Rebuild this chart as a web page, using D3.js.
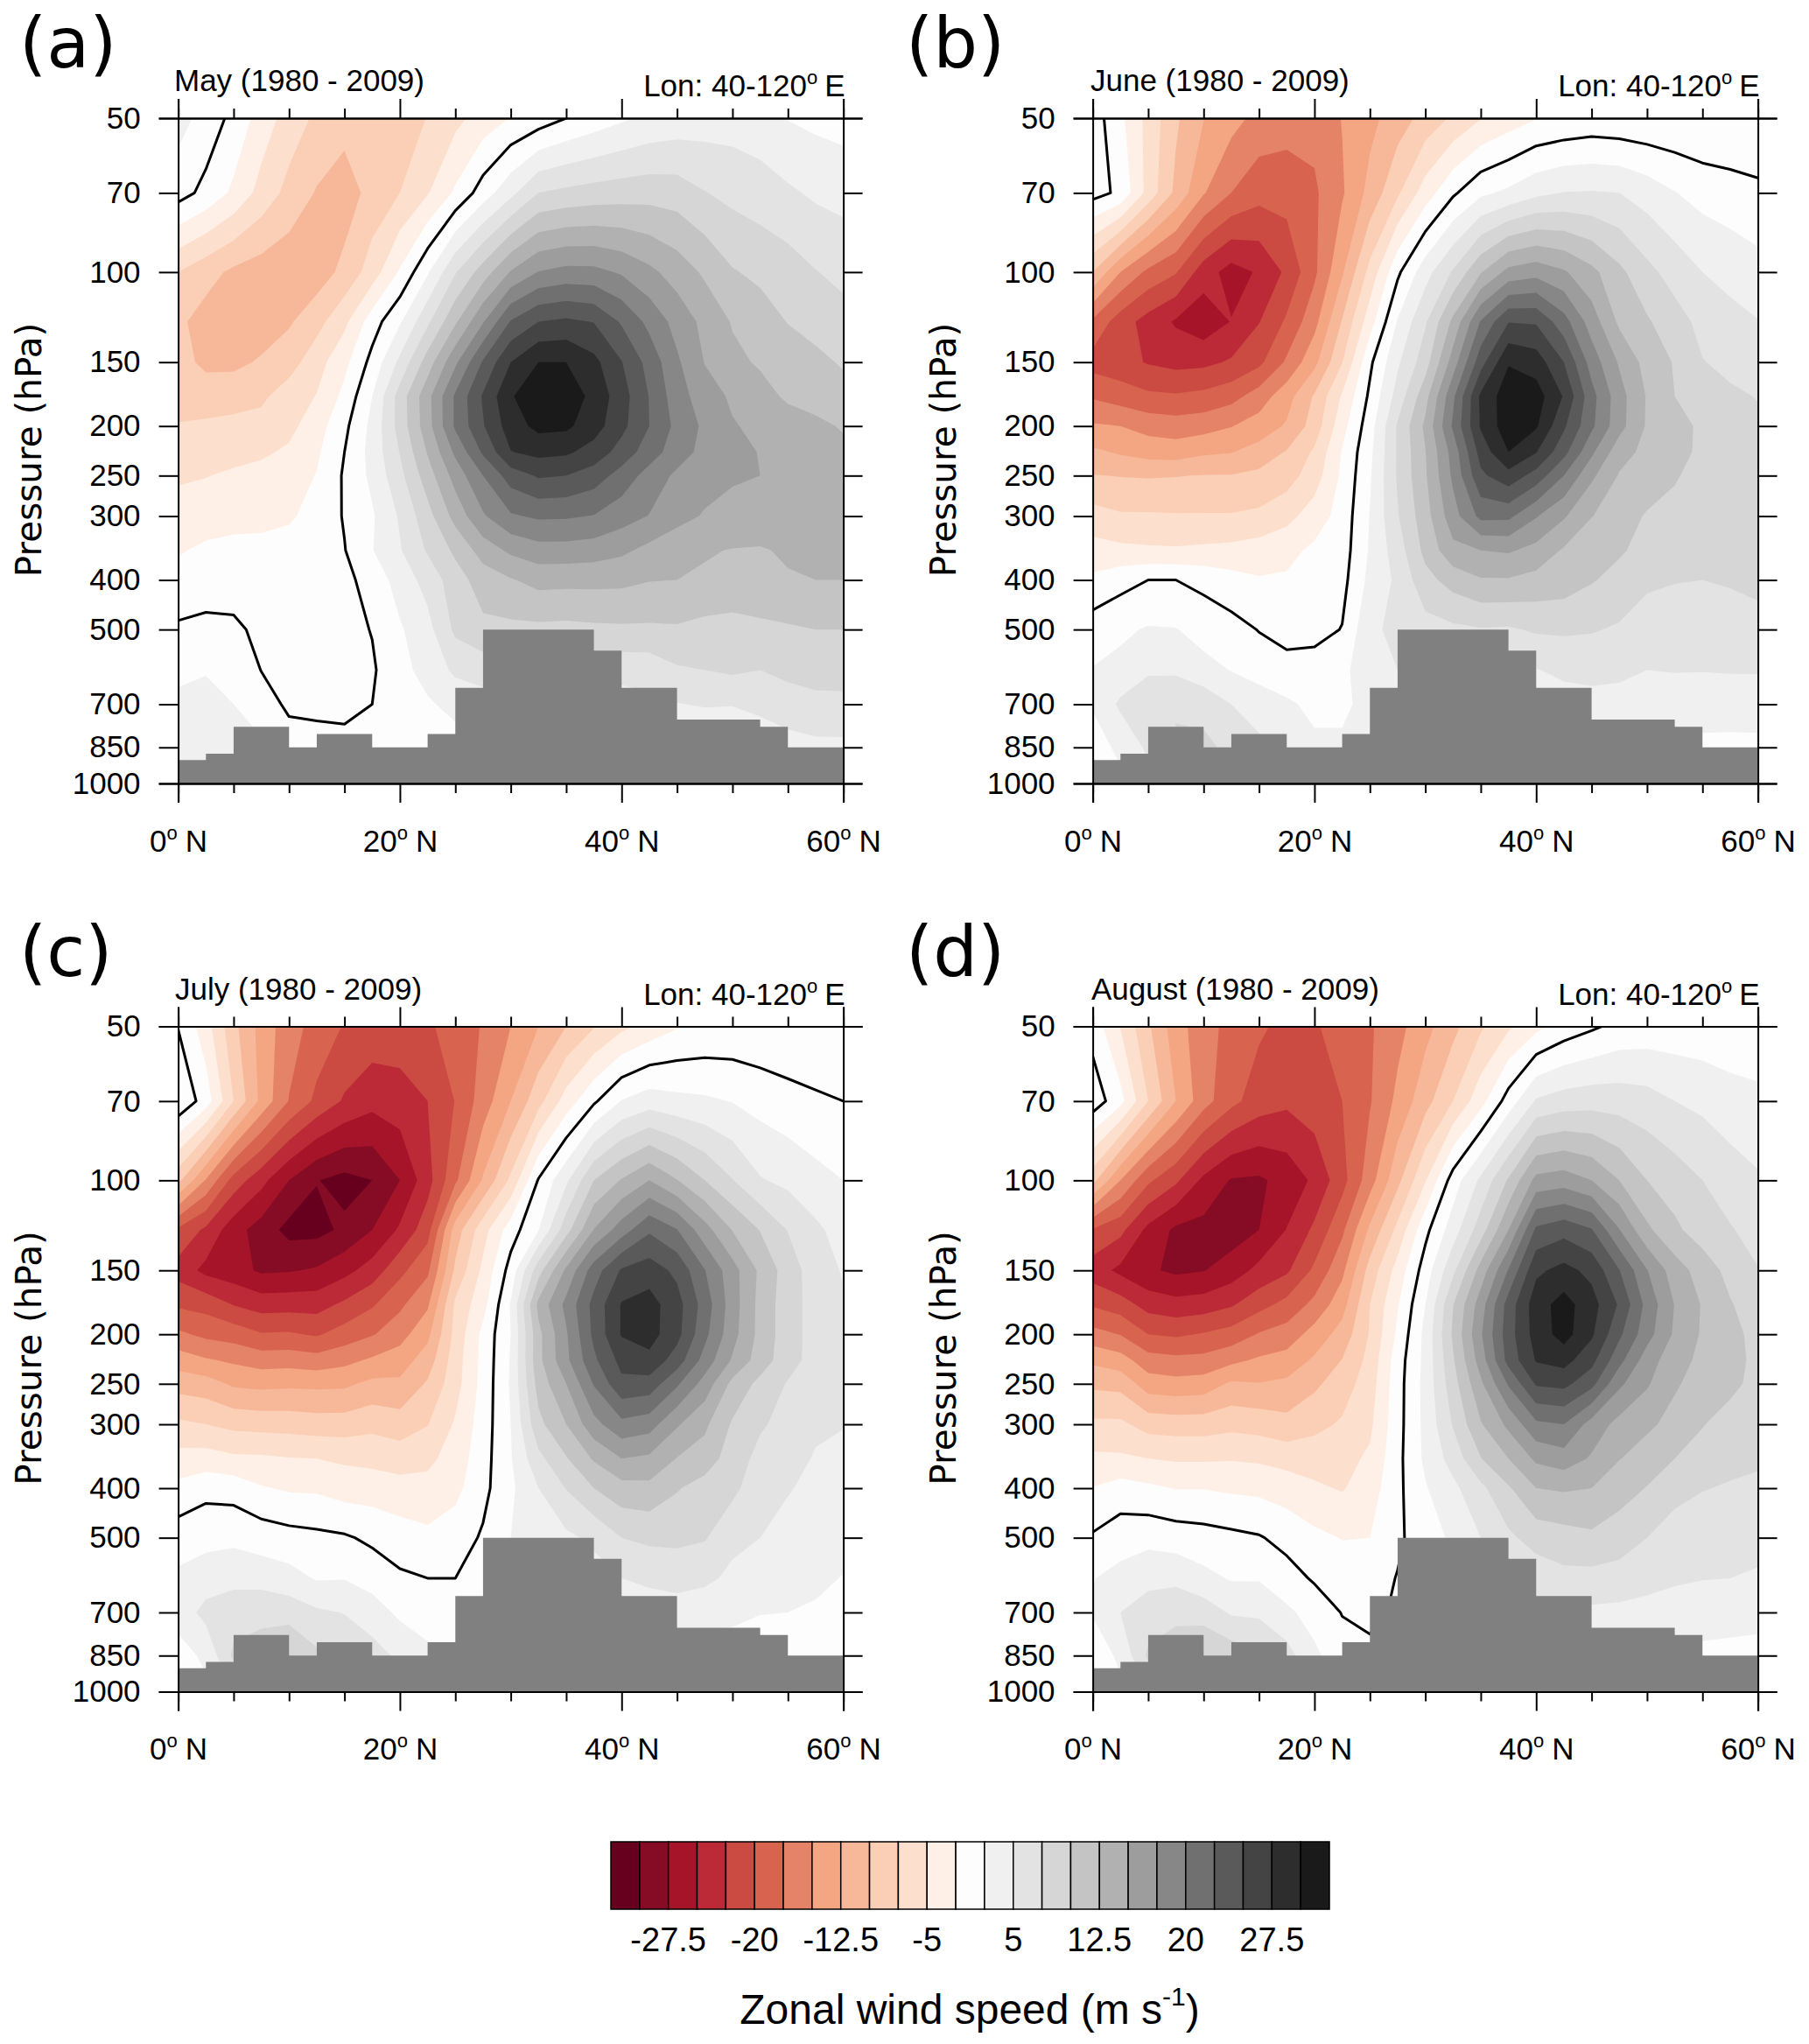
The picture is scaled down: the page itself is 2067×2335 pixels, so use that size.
<!DOCTYPE html>
<html><head><meta charset="utf-8">
<script src="https://cdn.jsdelivr.net/npm/d3@7"></script>
<style>html,body{margin:0;padding:0;background:#fff}svg{display:block}text{font-family:"Liberation Sans",sans-serif;fill:#000}</style>
</head><body><svg id="c" width="2067" height="2335" viewBox="0 0 2067 2335"></svg>
<script>
const lats = d3.range(0, 60.1, 2.5);
const levels = [50,70,100,125,150,175,200,225,250,300,350,400,500,600,700,850,1000];
const mayU = [
[3.5,1.5,-0.7,-3.6,-6.1,-8,-9,-9.3,-8.8,-7.4,-5.7,-3.9,-2.4,-1.3,0,1.1,2.1,3,3.5,3.8,3.9,3.5,2.4,1.9,1.5],
[1,-0.7,-3,-5.9,-8.3,-10.2,-11.3,-9.1,-7.5,-5.2,-2.1,1.2,4.3,7.5,8.1,8.5,8.8,9,8.8,7.6,6.8,6.2,5.4,4.6,4.2],
[-7.5,-9.1,-10.5,-11.2,-11.7,-11.3,-9.3,-6.3,-2.2,2.2,7.3,11.2,15.2,17.6,18.3,18.2,17.2,15.6,13.9,12.1,10.2,9.4,8.7,7.6,6.8],
[-9.5,-11,-11.8,-11.4,-10.3,-8.4,-5.6,-1.2,2.2,7,12.1,17.3,22.7,25,25.5,24.9,22.2,19.3,16.6,14.3,12.3,11.3,9.9,9,8.4],
[-8.9,-10.7,-10.6,-9.7,-8.6,-6,-3.2,0.8,5.6,11.2,17,22.8,27.5,30,30,28.2,25.1,21.6,17.9,14.9,13.1,12.2,11.6,10.7,9.7],
[-8.2,-8.4,-8.4,-8,-6.2,-4.9,-1.8,2.5,8.6,14.2,20.4,25.3,29.8,31.5,31.5,29.3,26.1,22.4,18.6,16.2,14.6,13.4,12.1,11.6,11],
[-7.4,-7.2,-6.9,-6.6,-5.7,-3.6,-0.6,3.2,8.5,14,20.4,24.8,28.8,30.7,30.5,28.6,25.7,22.5,19.3,17,15.2,14.4,13.7,13,12.3],
[-6.2,-6.1,-5.8,-5.4,-4.6,-2.9,0,3.4,7.6,12.7,18,22.9,27.4,28.2,27.9,26.5,24,21.2,18.7,16.7,15.7,14.9,14.2,13.6,13],
[-5.4,-5.1,-4.6,-4.2,-3.6,-2.4,0.3,3.1,6.8,11.3,16,20,23.7,25.3,25,23.8,21.5,19,17,15.9,15.3,15,14.5,14,13.6],
[-3.8,-3.5,-3.2,-3.2,-2.8,-1.7,0.2,2.2,5.3,9.1,13.4,17.2,19.7,20.4,20.3,19.9,18.6,17.4,15.8,14.8,14.2,14,13.8,13.8,13.8],
[-2.7,-2.1,-1.9,-1.8,-1.6,-1,-0.1,2.4,4.8,7.8,10.5,13.6,15.5,16.5,16.5,16.2,15.5,14.3,13.4,12.7,12.4,12.3,12.8,13.3,13.5],
[-1.8,-1.5,-1.2,-1.2,-1,-0.8,-0.6,0.9,3.6,5.9,8.9,11.2,12.3,13.3,13.2,13.2,13.1,12.6,12.5,12.2,11.7,12,12.3,12.5,12.5],
[0.4,0.8,0.5,-0.6,-0.9,-1,-0.8,0.1,2.2,4.2,8,9.4,9.4,9.4,9.3,9.5,9.6,9.6,9.7,9.2,9.1,9.4,9.7,10,10],
[2.2,2.4,1.7,-0.05,-0.6,-0.7,-0.7,-0.3,1.7,3.4,5.5,6,7.5,7.5,8,8,5.8,5.9,7.2,7.5,7.9,7.5,8.1,8.5,8.5],
[2.8,3,2.5,1,-0.4,-0.5,-0.6,0,1.3,2.2,3.2,4,4,4,4,4,4,4.5,4.9,5.2,5.1,5.6,6.4,6.8,6.9],
[2.8,3,3,3,1,0.8,0.7,0.6,0.6,1,1.5,2,2,2,2,2,2,2,2,2.5,3,3.5,4,4.4,4.4],
[2,2,1.5,1,1,0.5,0.5,0.5,0.5,0.5,1,1,1,1,1,1,1,1,1,2,2,2,3,3,3]];
const juneU = [
[1.3,-1.9,-5.8,-9.6,-12.4,-14.1,-15.8,-16.4,-16.7,-14.9,-13.2,-11.2,-9.1,-7.1,-5.1,-3.8,-2.6,-2.1,-1.7,-1.9,-2.1,-2.2,-2.4,-2.4,-2.4],
[0.9,-0.5,-5.9,-10.6,-14.8,-17.5,-19.1,-19,-17.9,-15.3,-11.7,-7.9,-3.8,-0.4,2,3,4.4,5.1,5.2,5,3.9,2.6,1.6,1.1,0.6],
[-10,-15,-18.1,-19.8,-23.8,-26,-24.7,-22,-18,-12.8,-6.7,-0.5,4,7.8,12.3,15.8,16.6,15.3,13.2,10.6,8.2,6.5,5,4.2,3.4],
[-18,-21.3,-23.5,-25.3,-26.6,-24.9,-22.6,-19.6,-15.8,-9.8,-3.6,2.7,7.2,13.1,20.2,24.9,24.7,21,16.3,12,10.3,8.5,6.8,5.8,5.1],
[-21,-21.6,-22.7,-23.3,-23.1,-22.2,-20.6,-17.1,-13.2,-7.6,-0.5,4.6,8.9,16.2,24,29.8,28.8,25,18.9,14.7,11.6,9.8,7.6,6.9,6.3],
[-17.8,-18.7,-19.5,-19.7,-19.3,-18.4,-16.3,-13.5,-9.7,-4.7,0.5,6,11.6,19.5,28,31.5,31.2,27.3,20.9,16,12.3,10,9.3,7.9,7.4],
[-14.7,-15,-15.9,-16.3,-16,-15.1,-13.9,-12.2,-8.9,-3.4,1.4,7.8,13,20.4,27.8,31.5,30.3,25.4,20.5,15.9,12.2,10.4,9.8,8.4,7.9],
[-12,-12.8,-13.5,-13.7,-12.9,-12.6,-11.5,-9.8,-7.1,-2.3,1.9,7.8,12.4,18.5,26,30,27.6,23.3,18,13.5,11.8,10.5,9.7,8.8,8.3],
[-9.9,-10.1,-10.2,-10.1,-9.9,-9.9,-9.4,-8.6,-6.2,-2,2.2,7.8,12.2,18,24.5,26.6,24,20,15.5,12.3,11.2,10.1,9.6,9,8.6],
[-6.5,-7.2,-7.2,-7.3,-7.3,-7.3,-7,-5.8,-3.8,-1.5,2.6,7.3,11.5,16.5,20.7,20.6,17.7,15.3,12.6,11,9.8,9.7,9.3,9,8.8],
[-4,-4.4,-4.6,-4.7,-4.5,-4.3,-3.8,-3.2,-2,-1.2,2.8,6.3,10.7,14.3,15,15.3,14.2,12.2,10.2,10.3,9.2,8.6,8.4,8.5,8.7],
[-2,-0.9,0,0,-0.7,-1.6,-2.3,-2.2,-2,-0.8,3.2,5.5,9.2,11,12.3,12.3,11.7,11.3,10.2,9.2,7.8,7.6,7.5,7.7,8],
[1.3,2.1,2.7,2.6,1.6,0.9,-0.1,-0.9,-0.9,0.1,4.6,5.5,6.5,7,7.3,7.2,7.8,7.9,7.7,7.2,6.7,6.3,6.3,6.5,6.8],
[2.6,3.1,4.7,4.6,3.3,2.4,1.4,0.9,1.2,1.6,4.8,5,5.5,5.5,5.5,5.5,4.9,5.5,5.7,5.4,5,5.1,5.1,5.2,5.2],
[2.7,5.5,6.5,7.1,6.8,5,4,2.9,1.9,1.9,3.5,4,4,4,4,4,4,4,4.2,4.3,4.2,3.9,3.5,3.4,3.5],
[1.5,3,5.5,8,8,7,5.5,4,3,3,3.5,3.5,3,3,3,3,3,3,3,3,2.5,2.5,2,2,2],
[1,2,4,5,5,5,4,3,2,2,2,2,2,2,2,2,2,2,2,2,2,1,1,1,1]];
const julyU = [
[-0.1,-3.9,-9.3,-13.4,-16.5,-18.4,-20.2,-20.9,-21.1,-20.4,-18.9,-17.3,-15,-12.5,-10,-7.7,-5.6,-4.1,-2.7,-2.1,-1.9,-2,-2.1,-2.3,-2.6],
[2.2,-1.2,-7.5,-13.2,-17.6,-20.6,-22.8,-24.2,-23.6,-22.5,-19.9,-16.3,-12.5,-8.4,-3.9,-0.4,2.6,3.8,3.2,2.9,2.4,1.6,0.9,0.4,0],
[-9.3,-15.2,-21,-24.2,-27.5,-29.9,-30.8,-30,-27.5,-23.5,-18,-12.2,-7,0.2,4.5,10,12.7,15,12.6,10,7.6,5.2,4.4,3.3,2.5],
[-20.5,-23,-26.5,-28.6,-30.8,-30.8,-29.5,-27.5,-24.6,-21,-11.3,-6,-1.2,2.4,9,15.1,18.8,22.1,20.1,16,12.4,9.9,7.4,5.5,4],
[-23.5,-25.7,-26.5,-27.9,-27.7,-27.2,-25.8,-23.9,-20.7,-18,-9.5,-4.4,1,9,15.5,21.3,25.3,26.3,24.4,20.1,16,12,8.8,6.2,4.8],
[-20.4,-20.9,-22.6,-23.6,-23.5,-23.5,-22,-20.3,-18,-15.4,-7,-3.4,2.7,13.2,18.2,23.3,27.7,28.5,26,21.4,16.2,11.7,8.6,6.5,5.3],
[-17,-18.1,-18.6,-19.8,-19.7,-20.3,-18.9,-17.7,-16,-13.1,-6.7,-1.8,2.5,11.8,17.2,23.1,27.7,28.5,25.8,20.7,15.9,11.7,8.6,6.5,5.4],
[-13.7,-14.7,-15.4,-16.1,-16,-16.4,-15.7,-14.6,-13.7,-11.3,-6.2,-1.7,2.7,11.8,16.9,22,25.8,26.8,23.8,19,14.7,11.3,8.5,6.5,5.6],
[-11,-11.4,-12.9,-13.2,-13,-13.1,-13,-11.9,-12,-9.7,-6,-1.6,2.8,11,15,20.2,24.4,24,20.4,16.5,11.8,9.3,7.3,6,5.4],
[-7,-7.5,-8.2,-8.4,-8.5,-8.8,-8.8,-8.2,-8.8,-7.6,-4.7,-1.3,2.5,9.3,12.5,16.7,19.3,18.6,15.3,13,9.7,7.8,6.7,5.4,5.1],
[-4.1,-3.9,-4.5,-4.6,-4.9,-5,-5.4,-5.7,-6.1,-5.6,-3.9,-1,2.3,6.8,9.8,12.8,15,14.5,12.4,11.4,8.7,6.8,5.9,4.8,4.4],
[-1.8,-0.8,-1,-2.3,-2.8,-2.9,-3.6,-3.7,-4.1,-4.2,-3.2,-0.7,2,5,7.6,10,11.6,11.8,10.2,8.9,8.1,6,5.2,4.3,3.9],
[1.3,1.8,1.9,1.4,0.9,0.6,0.3,-0.5,-1.3,-1.9,-1.2,0.3,2.5,3.5,4.5,5.5,7.5,8,8,7.7,5.7,5,4,3.6,3.3],
[3,3.7,4.3,3.9,3.4,2.3,2.4,1.5,0.4,0,0,1,2,3,3.5,4,5,5.6,6.1,5.6,4.4,3.9,3.2,3,2.4],
[3.5,5.8,6.4,7.2,6.5,5.4,4.9,3.7,2,1.5,1.5,1.5,1.5,2,2.5,3,3.5,3.5,3.6,3.3,3,2.6,2.5,2.2,1.7],
[1.5,3,8,8,10,8,7,6,4.5,3,2,2,2,2,2,2,2,2,2,1.5,1.5,1,1,1,1],
[1,2,5,5,6,5,5,4,3,2,2,1,1,1,1,1,1,1,1,1,1,1,0.5,0.5,0.5]];
const augustU = [
[-1,-5.1,-9.6,-13.9,-16.5,-18.3,-19.6,-20.7,-20.2,-19.2,-17.8,-15.8,-13.3,-10.7,-7.9,-5.4,-3.2,-1.5,-0.4,0.7,1,1,0.9,0.7,0.5],
[1.5,-1.7,-7.5,-12.5,-16.5,-19.3,-21.2,-22,-21.1,-20,-17.7,-14.4,-10.9,-7.5,-3.4,1.1,5.3,6.2,6.5,6.4,6,5,4.4,3.6,3.2],
[-9.2,-15,-19.5,-22,-25.6,-27.7,-27.9,-26.6,-24.5,-20.9,-16.1,-10.7,-5.2,1.2,5.5,10.3,15.8,16.3,15,12.5,10,8.8,7.5,6.2,5.3],
[-20.2,-21.8,-25.7,-28,-28.3,-28.8,-27.5,-24.9,-22,-18,-12,-6.8,-0.7,3.8,8.8,15,23,24.1,22.7,17.6,13,10.5,8.8,7.7,6.6],
[-23.8,-25.6,-27.1,-28,-27.6,-26.3,-24.3,-22.9,-19.5,-15.6,-9,-4,1.2,6.9,13.5,20.2,27,28.3,26.8,22.6,17.6,13.7,11.4,9.2,7.6],
[-20.3,-21.3,-23.5,-24.1,-23.8,-22.8,-20.9,-19.2,-16.8,-13.5,-7.5,-2.7,2.5,9.9,16.3,23.6,28.9,31,28.5,24.7,19.2,14.9,12.3,10.2,8.6],
[-16.6,-17.6,-20,-20.4,-19.8,-19,-17.3,-16.4,-14,-11.5,-7.3,-2,3.2,10.4,17.2,23.9,28.6,31,27.9,23,18.5,14.6,12.2,10.7,9.3],
[-13,-13.9,-16.4,-16.8,-16.7,-15.6,-14.6,-14,-12.1,-9.9,-6.7,-1.2,3.2,9.7,16.2,23.4,27.7,28.4,25.8,20.8,16.2,13.5,11.9,10.7,9.5],
[-10.5,-10.8,-13.8,-14.2,-13.9,-12.1,-12.4,-12,-10.5,-8.7,-6.2,-1,3.3,9,14.5,20.3,25.3,25.7,23.3,18,15.3,12.8,11.5,10.5,9.4],
[-7,-7,-8.5,-8.7,-8.7,-8.2,-8.5,-9.2,-8.2,-7.2,-5.5,-0.9,3.2,7.7,12.3,15.6,19.5,20,16.5,14.2,13,11.7,10.1,9.2,8.7],
[-4.5,-4.6,-5,-5.3,-5.3,-5.2,-5.4,-5.9,-6.1,-5.8,-4.6,-0.7,3,6,9.9,12.5,15.5,16.4,14.7,12.6,11.3,10,9.2,8.1,7.8],
[-2.4,-1.5,-2,-2.6,-2.6,-2.9,-3.1,-3.7,-4.6,-5.2,-3.7,-0.6,2.3,4.4,6.9,9.7,12.5,12.8,12.5,11,9.9,8,7.6,7.3,7.1],
[0.3,1.4,1.7,1.3,1,0.6,0.2,-0.8,-1.9,-2.6,-2.5,-0.4,1.2,3,5,7,8.5,9,9.5,8.8,7.5,6.8,6.2,6,5.8],
[2.4,3.3,4.4,4.4,3.2,2.3,2.3,1,-0.3,-1.1,-1,0.1,1,2,3,4,6,6.8,6.7,6.4,5.7,5.3,5.1,5,4.7],
[2.7,5,6,6.8,6.4,4.7,4.5,3,1.5,-0.1,-0.5,0.3,1,2,2,3,4.5,4.7,4.5,4.4,4.3,4,3.5,3.2,3],
[1,3,8,9,10,9,8,6,3,1,0.5,1,1,2,2,2,2,3,3,3,3,3,2,2,2],
[1,2,5,6,6,6,5,4,2,1,1,1,1,1,1,1,1,1,2,2,2,2,1,1,1]];
const contourLevels = [-30,-27.5,-25,-22.5,-20,-17.5,-15,-12.5,-10,-7.5,-5,-2.5,2.5,5,7.5,10,12.5,15,17.5,20,22.5,25,27.5,30];
const bandColors = ["#67001F","#850C24","#A51428","#BB2A36","#CB4A42","#D8634F","#E58368","#F4A582","#F7B799","#FBCFB5","#FDDFCE","#FFF0E7","#FDFDFD","#F0F0F0","#E3E3E3","#D6D6D6","#C4C4C4","#B1B1B1","#9D9D9D","#878787","#707070","#5A5A5A","#444444","#2D2D2D","#1A1A1A"];
const terrainEdges = [0,2.5,5,10,12.5,17.5,22.5,25,27.5,37.5,40,45,52.5,55,60];
const terrainTop = [900,875,775,850,800,850,800,650,500,550,650,750,775,850];
const yTicks = [50,70,100,150,200,250,300,400,500,700,850,1000];
const xMajor = [0,20,40,60];
const xMinor = [5,10,15,25,30,35,45,50,55];
const barLabels = [-27.5,-20,-12.5,-5,5,12.5,20,27.5];
const panels = [
 {tag:"(a)",title:"May (1980 - 2009)",u:mayU,x:203.6,y:135,tagX:22,titleX:199},
 {tag:"(b)",title:"June (1980 - 2009)",u:juneU,x:1248.6,y:135,tagX:1035,titleX:1246},
 {tag:"(c)",title:"July (1980 - 2009)",u:julyU,x:203.6,y:1172.5,tagX:22,titleX:200},
 {tag:"(d)",title:"August (1980 - 2009)",u:augustU,x:1248.6,y:1172.5,tagX:1035,titleX:1247}
];
const W = 760, H = 760;
const svg = d3.select("#c");
const xS = d3.scaleLinear().domain([0,60]).range([0,W]);
const yS = d3.scaleLog().domain([50,1000]).range([0,H]);
const rowY = d3.scaleLinear().domain(levels.map((_,i)=>i)).range(levels.map(p=>yS(p)));
const proj = d3.geoTransform({point(px,py){ this.stream.point(xS((px-0.5)*2.5), rowY(py-0.5)); }});
const pathGen = d3.geoPath(proj);
svg.append("defs").append("clipPath").attr("id","plot").append("rect").attr("width",W).attr("height",H);
const posLevels = contourLevels.filter(v=>v>0);
const negLevels = contourLevels.filter(v=>v<0).map(v=>-v).reverse();
const midBand = 12;

function degLabel(sel, prefix, suffix){
  sel.text(null);
  sel.append("tspan").text(prefix);
  sel.append("tspan").attr("font-size",22).attr("dy",-14).text("o");
  sel.append("tspan").attr("dy",14).attr("dx",9).text(suffix);
}
panels.forEach(p=>{
  const g = svg.append("g").attr("transform",`translate(${p.x},${p.y})`);
  const plot = g.append("g").attr("clip-path","url(#plot)");
  const flat = p.u.flat();
  const size = [lats.length,levels.length];
  plot.append("rect").attr("width",W).attr("height",H).attr("fill",bandColors[midBand]);
  const pos = d3.contours().size(size).thresholds(posLevels)(flat);
  plot.selectAll("path.pos").data(pos).join("path").attr("class","pos")
    .attr("d",pathGen).attr("fill",(d,i)=>bandColors[midBand+1+i]);
  const neg = d3.contours().size(size).thresholds(negLevels)(flat.map(v=>-v));
  plot.selectAll("path.neg").data(neg).join("path").attr("class","neg")
    .attr("d",pathGen).attr("fill",(d,i)=>bandColors[midBand-1-i]);
  const zero = d3.contours().size(size).thresholds([0])(flat);
  plot.selectAll("path.zero").data(zero).join("path").attr("class","zero")
    .attr("d",pathGen).attr("fill","none").attr("stroke","#000").attr("stroke-width",3).attr("stroke-linejoin","round");
  const area = d3.area().curve(d3.curveStepAfter).x(d=>xS(d.e)).y0(H).y1(d=>yS(d.t));
  const tData = terrainEdges.map((e,i)=>({e,t:terrainTop[Math.min(i,terrainTop.length-1)]}));
  plot.append("path").attr("d",area(tData)).attr("fill","#808080");
  const styleAxis = s=>{s.select(".domain").attr("stroke","#000").attr("stroke-width",2);s.selectAll("line").attr("stroke","#000").attr("stroke-width",2);};
  const left = g.append("g").call(d3.axisLeft(yS).tickValues(yTicks).tickFormat(d3.format("d")).tickSize(22).tickPadding(21)).call(styleAxis);
  left.selectAll("text").attr("font-size",35).attr("font-family","Liberation Sans").attr("fill","#000");
  g.append("g").attr("transform",`translate(${W},0)`).call(d3.axisRight(yS).tickValues(yTicks).tickFormat("").tickSize(22)).call(styleAxis);
  const bot = g.append("g").attr("transform",`translate(0,${H})`).call(d3.axisBottom(xS).tickValues(xMajor).tickSize(22).tickPadding(31)).call(styleAxis);
  bot.selectAll("text").attr("font-size",35).attr("font-family","Liberation Sans").attr("fill","#000").each(function(d){degLabel(d3.select(this),String(d),"N");});
  g.append("g").attr("transform",`translate(0,${H})`).call(d3.axisBottom(xS).tickValues(xMinor).tickFormat("").tickSize(11)).call(styleAxis);
  g.append("g").call(d3.axisTop(xS).tickValues(xMajor).tickFormat("").tickSize(22)).call(styleAxis);
  g.append("g").call(d3.axisTop(xS).tickValues(xMinor).tickFormat("").tickSize(11)).call(styleAxis);
  svg.append("text").attr("x",p.titleX).attr("y",p.y-31).attr("font-size",35).text(p.title);
  const r = svg.append("text").attr("x",p.x+W+2).attr("y",p.y-25).attr("font-size",35).attr("text-anchor","end");
  r.append("tspan").text("Lon: 40-120");
  r.append("tspan").attr("font-size",22).attr("dy",-14).text("o");
  r.append("tspan").attr("dy",14).attr("dx",8).text("E");
  svg.append("text").attr("x",p.tagX).attr("y",p.y-58).attr("font-size",80).style("font-family","'DejaVu Sans'").text(p.tag);
  svg.append("text").attr("transform",`translate(${p.x-157},${p.y+H/2-1}) rotate(-90)`).attr("text-anchor","middle")
    .attr("font-size",40.5).style("font-family","'DejaVu Sans'").text("Pressure (hPa)");
});
const barX0=698, barX1=1519, barY0=2104, barY1=2181;
const barS = d3.scaleBand().domain(d3.range(bandColors.length)).range([barX0,barX1]);
const bar = svg.append("g");
bar.selectAll("rect").data(bandColors).join("rect")
  .attr("x",(d,i)=>barS(i)).attr("y",barY0).attr("width",barS.bandwidth()).attr("height",barY1-barY0)
  .attr("fill",d=>d).attr("stroke","#000").attr("stroke-width",1.5);
const labelAt = v => barX0 + (contourLevels.indexOf(v)+1)*barS.bandwidth();
bar.selectAll("text").data(barLabels).join("text").attr("x",labelAt).attr("y",2229)
  .attr("text-anchor","middle").attr("font-size",38).text(d=>d);
const ct = svg.append("text").attr("x",1108).attr("y",2312).attr("text-anchor","middle").attr("font-size",48);
ct.append("tspan").text("Zonal wind speed (m s");
ct.append("tspan").attr("font-size",30).attr("dy",-21).text("-1");
ct.append("tspan").attr("dy",21).text(")");
</script></body></html>
